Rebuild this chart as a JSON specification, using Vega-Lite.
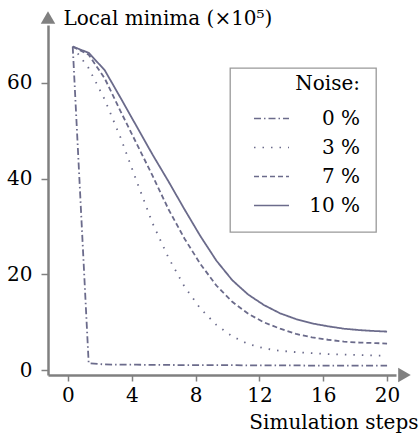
{
  "$schema": "https://vega.github.io/schema/vega-lite/v6.json",
  "autosize": "none",
  "width": 348,
  "height": 350,
  "padding": {"left": 48, "top": 25, "right": 24, "bottom": 60},
  "datasets": {
    "series": [
      {"step": 0.3, "minima": 67.5, "noise": "0 %"},
      {"step": 1.3, "minima": 1.5, "noise": "0 %"},
      {"step": 2.3, "minima": 1.25, "noise": "0 %"},
      {"step": 3.3, "minima": 1.2, "noise": "0 %"},
      {"step": 4.3, "minima": 1.2, "noise": "0 %"},
      {"step": 5.3, "minima": 1.15, "noise": "0 %"},
      {"step": 6.3, "minima": 1.15, "noise": "0 %"},
      {"step": 7.3, "minima": 1.1, "noise": "0 %"},
      {"step": 8.3, "minima": 1.1, "noise": "0 %"},
      {"step": 9.3, "minima": 1.1, "noise": "0 %"},
      {"step": 10.3, "minima": 1.1, "noise": "0 %"},
      {"step": 11.3, "minima": 1.05, "noise": "0 %"},
      {"step": 12.3, "minima": 1.05, "noise": "0 %"},
      {"step": 13.3, "minima": 1.05, "noise": "0 %"},
      {"step": 14.3, "minima": 1.05, "noise": "0 %"},
      {"step": 15.3, "minima": 1.0, "noise": "0 %"},
      {"step": 16.3, "minima": 1.0, "noise": "0 %"},
      {"step": 17.3, "minima": 1.0, "noise": "0 %"},
      {"step": 18.3, "minima": 1.0, "noise": "0 %"},
      {"step": 19.3, "minima": 1.0, "noise": "0 %"},
      {"step": 20.0, "minima": 1.0, "noise": "0 %"},
      {"step": 0.3, "minima": 67.5, "noise": "3 %"},
      {"step": 1.3, "minima": 63.0, "noise": "3 %"},
      {"step": 2.3, "minima": 56.5, "noise": "3 %"},
      {"step": 3.3, "minima": 48.5, "noise": "3 %"},
      {"step": 4.3, "minima": 39.5, "noise": "3 %"},
      {"step": 5.3, "minima": 30.7, "noise": "3 %"},
      {"step": 6.3, "minima": 23.5, "noise": "3 %"},
      {"step": 7.3, "minima": 17.5, "noise": "3 %"},
      {"step": 8.3, "minima": 12.9, "noise": "3 %"},
      {"step": 9.3, "minima": 9.5, "noise": "3 %"},
      {"step": 10.3, "minima": 7.1, "noise": "3 %"},
      {"step": 11.3, "minima": 5.5, "noise": "3 %"},
      {"step": 12.3, "minima": 4.6, "noise": "3 %"},
      {"step": 13.3, "minima": 4.1, "noise": "3 %"},
      {"step": 14.3, "minima": 3.8, "noise": "3 %"},
      {"step": 15.3, "minima": 3.6, "noise": "3 %"},
      {"step": 16.3, "minima": 3.4, "noise": "3 %"},
      {"step": 17.3, "minima": 3.3, "noise": "3 %"},
      {"step": 18.3, "minima": 3.2, "noise": "3 %"},
      {"step": 19.3, "minima": 3.1, "noise": "3 %"},
      {"step": 20.0, "minima": 3.1, "noise": "3 %"},
      {"step": 0.3, "minima": 67.5, "noise": "7 %"},
      {"step": 1.3, "minima": 65.8, "noise": "7 %"},
      {"step": 2.3, "minima": 60.9, "noise": "7 %"},
      {"step": 3.3, "minima": 54.0, "noise": "7 %"},
      {"step": 4.3, "minima": 47.3, "noise": "7 %"},
      {"step": 5.3, "minima": 40.6, "noise": "7 %"},
      {"step": 6.3, "minima": 33.6, "noise": "7 %"},
      {"step": 7.3, "minima": 27.5, "noise": "7 %"},
      {"step": 8.3, "minima": 22.2, "noise": "7 %"},
      {"step": 9.3, "minima": 17.7, "noise": "7 %"},
      {"step": 10.3, "minima": 14.3, "noise": "7 %"},
      {"step": 11.3, "minima": 11.8, "noise": "7 %"},
      {"step": 12.3, "minima": 10.0, "noise": "7 %"},
      {"step": 13.3, "minima": 8.7, "noise": "7 %"},
      {"step": 14.3, "minima": 7.6, "noise": "7 %"},
      {"step": 15.3, "minima": 6.9, "noise": "7 %"},
      {"step": 16.3, "minima": 6.4, "noise": "7 %"},
      {"step": 17.3, "minima": 6.0, "noise": "7 %"},
      {"step": 18.3, "minima": 5.8, "noise": "7 %"},
      {"step": 19.3, "minima": 5.7, "noise": "7 %"},
      {"step": 20.0, "minima": 5.6, "noise": "7 %"},
      {"step": 0.3, "minima": 67.5, "noise": "10 %"},
      {"step": 1.3, "minima": 66.2, "noise": "10 %"},
      {"step": 2.3, "minima": 62.6, "noise": "10 %"},
      {"step": 3.3, "minima": 56.8, "noise": "10 %"},
      {"step": 4.3, "minima": 50.9, "noise": "10 %"},
      {"step": 5.3, "minima": 45.0, "noise": "10 %"},
      {"step": 6.3, "minima": 39.4, "noise": "10 %"},
      {"step": 7.3, "minima": 33.6, "noise": "10 %"},
      {"step": 8.3, "minima": 28.0, "noise": "10 %"},
      {"step": 9.3, "minima": 22.9, "noise": "10 %"},
      {"step": 10.3, "minima": 18.8, "noise": "10 %"},
      {"step": 11.3, "minima": 15.8, "noise": "10 %"},
      {"step": 12.3, "minima": 13.6, "noise": "10 %"},
      {"step": 13.3, "minima": 11.9, "noise": "10 %"},
      {"step": 14.3, "minima": 10.7, "noise": "10 %"},
      {"step": 15.3, "minima": 9.8, "noise": "10 %"},
      {"step": 16.3, "minima": 9.2, "noise": "10 %"},
      {"step": 17.3, "minima": 8.7, "noise": "10 %"},
      {"step": 18.3, "minima": 8.4, "noise": "10 %"},
      {"step": 19.3, "minima": 8.2, "noise": "10 %"},
      {"step": 20.0, "minima": 8.1, "noise": "10 %"}
    ],
    "arrows": [
      {"step": -1.25, "minima": 73.56, "shape": "triangle-up"},
      {"step": 21.09, "minima": -0.95, "shape": "triangle-right"}
    ]
  },
  "encoding": {
    "x": {
      "field": "step",
      "type": "quantitative",
      "scale": {"domain": [-1.25, 20.56], "nice": false, "zero": false},
      "axis": {
        "title": "Simulation steps",
        "values": [0, 4, 8, 12, 16, 20],
        "tickSize": 6,
        "labelPadding": 4,
        "titleX": 370,
        "titleY": 53,
        "titleAlign": "right",
        "titleBaseline": "alphabetic",
        "titleAnchor": null
      }
    },
    "y": {
      "field": "minima",
      "type": "quantitative",
      "scale": {"domain": [-0.95, 72], "nice": false, "zero": false},
      "axis": {
        "title": "Local minima (×10⁵)",
        "values": [0, 20, 40, 60],
        "tickSize": 7,
        "labelPadding": 9,
        "titleAngle": 0,
        "titleX": 15,
        "titleY": -1,
        "titleAlign": "left",
        "titleBaseline": "alphabetic",
        "titleAnchor": null
      }
    }
  },
  "layer": [
    {
      "data": {"name": "series"},
      "mark": {"type": "line", "color": "#6b6b8b", "strokeWidth": 1.8, "strokeCap": "butt"},
      "encoding": {
        "strokeDash": {
          "field": "noise",
          "type": "nominal",
          "scale": {
            "domain": ["0 %", "3 %", "7 %", "10 %"],
            "range": [[7, 3, 1.5, 3], [1.5, 7], [5, 3], [1, 0]]
          },
          "legend": {
            "title": "Noise:",
            "orient": "none",
            "legendX": 182,
            "legendY": 43,
            "titleAnchor": "end",
            "titleBaseline": "middle",
            "titlePadding": -4,
            "labelAlign": "right",
            "labelOffset": 70,
            "symbolType": "stroke",
            "symbolSize": 1225,
            "symbolStrokeWidth": 1.5,
            "symbolStrokeColor": "#6b6b8b",
            "symbolOffset": 7,
            "rowPadding": -7.9,
            "padding": 16,
            "strokeColor": "#999999"
          }
        }
      }
    },
    {
      "data": {"name": "arrows"},
      "mark": {"type": "point", "filled": true, "color": "#808080", "size": 210, "opacity": 1},
      "encoding": {
        "shape": {"field": "shape", "type": "nominal", "scale": null}
      }
    }
  ],
  "config": {
    "view": {"stroke": null},
    "font": "DejaVu Serif",
    "axis": {
      "grid": false,
      "domainColor": "#808080",
      "domainWidth": 2.5,
      "tickColor": "#808080",
      "tickWidth": 1.5,
      "labelFont": "DejaVu Serif",
      "labelFontSize": 20,
      "labelColor": "#000000",
      "titleFont": "DejaVu Serif",
      "titleFontSize": 20,
      "titleFontWeight": "normal",
      "titleColor": "#000000"
    },
    "legend": {
      "titleFont": "DejaVu Serif",
      "titleFontSize": 20,
      "titleFontWeight": "normal",
      "titleColor": "#000000",
      "labelFont": "DejaVu Serif",
      "labelFontSize": 20,
      "labelColor": "#000000",
      "strokeWidth": 1.3
    }
  }
}
